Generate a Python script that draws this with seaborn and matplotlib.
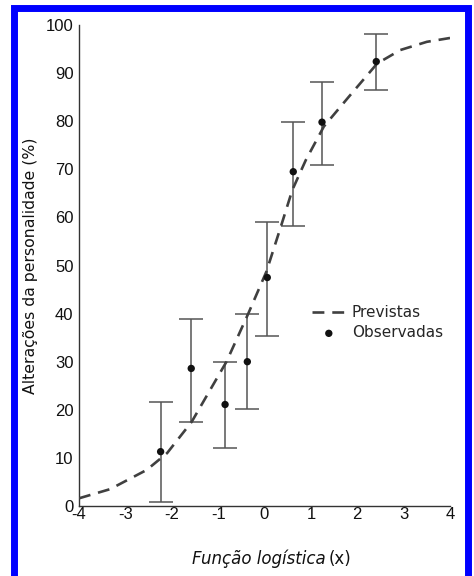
import matplotlib
matplotlib.use("Agg")
import matplotlib.pyplot as plt
from matplotlib.patches import Rectangle
import seaborn as sns

# predicted curve (dashed)
curve_x = [-4.0, -3.33, -2.54, -2.1, -1.57, -0.82, -0.35, 0.04, 0.35, 0.6, 0.89, 1.28, 1.82, 2.43, 2.93, 3.5, 4.0]
curve_y = [1.6, 3.5, 7.5, 11.0, 17.5, 30.0, 40.0, 48.7, 58.0, 65.7, 71.9, 78.9, 85.1, 92.0, 94.8, 96.5, 97.3]

# observed points with error bars
obs_x = [-2.24, -1.58, -0.85, -0.37, 0.06, 0.62, 1.24, 2.41]
obs_y = [11.3, 28.6, 21.1, 30.0, 47.5, 69.5, 79.8, 92.4]
obs_lo = [0.8, 17.5, 12.0, 20.1, 35.3, 58.3, 70.9, 86.5]
obs_hi = [21.7, 38.9, 30.0, 39.9, 59.1, 79.9, 88.2, 98.2]

x_ticks = [-4, -3, -2, -1, 0, 1, 2, 3, 4]
y_ticks = [0, 10, 20, 30, 40, 50, 60, 70, 80, 90, 100]

sns.set_style("white")
plt.rcParams["font.family"] = ["DejaVu Sans"]

fig = plt.figure(figsize=(4.74, 5.76), dpi=100)
ax = fig.add_axes([79 / 474, 70 / 576, 371 / 474, 481 / 576])

# error bars
err_lo = [y - lo for y, lo in zip(obs_y, obs_lo)]
err_hi = [hi - y for y, hi in zip(obs_y, obs_hi)]
ax.errorbar(obs_x, obs_y, yerr=[err_lo, err_hi], fmt="none", ecolor="#555555",
            elinewidth=1.1, capsize=8.3, capthick=1.1, zorder=2)

sns.lineplot(x=curve_x, y=curve_y, ax=ax, color="#404040", linewidth=1.9,
             linestyle=(0, (4.5, 3)), label="Previstas", zorder=3)
sns.scatterplot(x=obs_x, y=obs_y, ax=ax, color="#111111", s=28, edgecolor="none",
                label="Observadas", zorder=4)

ax.set_xlim(-4, 4)
ax.set_ylim(0, 100)
ax.set_xticks(x_ticks)
ax.set_yticks(y_ticks)
ax.set_xticklabels([str(t) for t in x_ticks], family="Liberation Sans", fontsize=12)
ax.set_yticklabels([str(t) for t in y_ticks], family="Liberation Sans", fontsize=12)
ax.tick_params(direction="in", length=5, width=1, color="#333333", pad=1, labelcolor="#111111")
ax.tick_params(axis="y", pad=4)

for side in ["top", "right"]:
    ax.spines[side].set_visible(False)
for side in ["left", "bottom"]:
    ax.spines[side].set_color("#333333")
    ax.spines[side].set_linewidth(1)

ax.set_ylabel("Alterações da personalidade (%)", fontsize=11.3, color="#111111")
ax.yaxis.set_label_coords((38 - 79) / 371, 0.5)
ax.set_xlabel("")

# x label: italic part + normal part
fig.text(326 / 474, 12 / 576, "Função logística", fontsize=12, style="italic",
         ha="right", va="baseline", color="#111111")
fig.text(329 / 474, 12 / 576, "(x)", fontsize=12, ha="left", va="baseline", color="#111111")

ax.legend(frameon=False, loc="upper left", bbox_to_anchor=((312 - 79) / 371, (506 - 305) / 481),
          borderpad=0, handlelength=2.2, handletextpad=0.4, labelspacing=0.35, fontsize=11,
          borderaxespad=0)

# blue frame around the figure
fig.patches.append(Rectangle((13.5 / 474, -3 / 576), 454 / 474, 571 / 576,
                             transform=fig.transFigure, fill=False,
                             edgecolor="#0000ff", linewidth=5.0))

fig.savefig("out.png", dpi=100, facecolor="white")
